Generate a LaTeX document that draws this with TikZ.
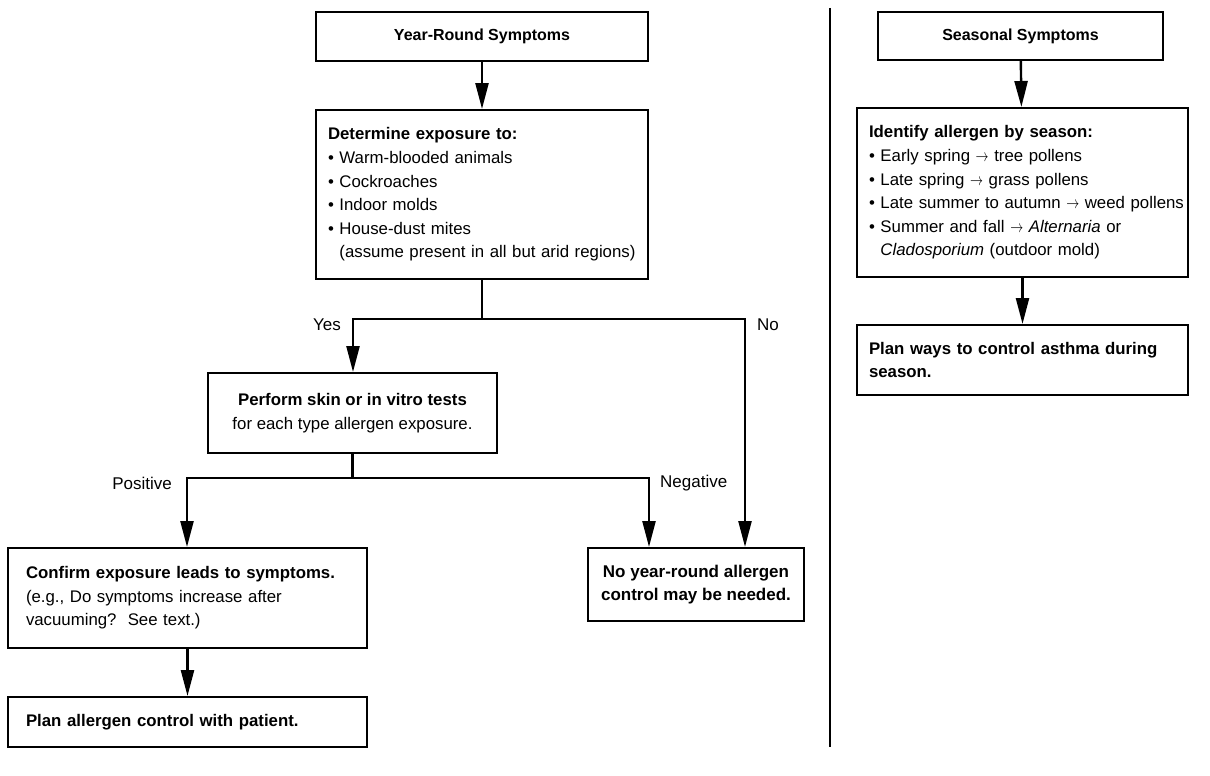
\documentclass[tikz,border=0pt]{standalone}
\usepackage{fontspec}
\setmainfont{Liberation Sans}
\usetikzlibrary{arrows.meta}
\newcommand{\sarr}{\scalebox{0.75}[1]{$\rightarrow$}}

\begin{document}
\begin{tikzpicture}[x=1pt, y=-1pt,
    box/.style={draw, line width=2pt, inner ysep=0pt, font=\fontsize{16.8}{23.6}\selectfont},
    titlebox/.style={box, align=center, font=\fontsize{16}{20}\selectfont\bfseries},
    listbox/.style={box, align=left, inner xsep=12pt},
    wire/.style={line width=2.4pt},
    flow/.style={wire, -{Triangle[length=26pt, width=13pt]}},
    lbl/.style={inner sep=0pt, font=\fontsize{17}{20}\selectfont}]
  \useasboundingbox (0,0) rectangle (1210,776);
  % year-round side
  \node[titlebox, minimum width=332pt, minimum height=49pt] (yr) at (482,36.5) {Year-Round Symptoms};
  \node[listbox, text width=308pt, minimum height=169pt] (det) at (482,194.5)
    {\textbf{Determine exposure to:}\\
     \textbullet\ Warm-blooded animals\\
     \textbullet\ Cockroaches\\
     \textbullet\ Indoor molds\\
     \textbullet\ House-dust mites\\
     \mbox{\hphantom{\textbullet\ }(assume present in all but arid regions)}};
  \node[box, align=center, minimum width=289pt, minimum height=80pt] (perf) at (352.5,413)
    {\textbf{Perform skin or in vitro tests}\\for each type allergen exposure.};
  \node[listbox, inner xsep=18pt, text width=323pt, minimum height=100pt] (conf) at (187.5,598)
    {\textbf{Confirm exposure leads to symptoms.}\\
     (e.g., Do symptoms increase after\\
     vacuuming?\ \ See text.)};
  \node[listbox, inner xsep=18pt, text width=323pt, minimum height=50pt] (plan) at (187.5,722)
    {\textbf{Plan allergen control with patient.}};
  \node[box, align=center, font=\fontsize{17}{23.6}\selectfont\bfseries, minimum width=216pt, minimum height=73pt] (none) at (696,584.5)
    {No year-round allergen\\control may be needed.};

  \coordinate (yesturn) at (353,319);
  \coordinate (noturn) at (745,319);
  \coordinate (posturn) at (187,478);
  \coordinate (negturn) at (649,478);

  \draw[flow] (yr) -- (det);
  \draw[wire] (det.south) -- (det.south |- yesturn);
  \draw[flow] (det.south |- yesturn) -- (yesturn) -- (yesturn |- perf.north);
  \draw[flow] (det.south |- noturn) -- (noturn) -- (noturn |- none.north);
  \draw[wire] (perf.south) -- (perf.south |- posturn);
  \draw[flow] (perf.south |- posturn) -- (posturn) -- (posturn |- conf.north);
  \draw[flow] (perf.south |- negturn) -- (negturn) -- (negturn |- none.north);
  \draw[flow] (conf) -- (plan);

  \node[lbl, anchor=east] (yes) at (341,325) {Yes};
  \node[lbl, anchor=west] (no) at (757,325) {No};
  \node[lbl, anchor=east] (pos) at (172,483) {Positive};
  \node[lbl, anchor=west] (neg) at (660,483) {Negative};

  % divider
  \coordinate (divtop) at (830,8);
  \coordinate (divbot) at (830,747);
  \draw[line width=2pt] (divtop) -- (divbot);

  % seasonal side
  \node[titlebox, minimum width=285pt, minimum height=48pt] (seas) at (1020.5,36) {Seasonal Symptoms};
  \node[listbox, text width=307pt, minimum height=169pt] (ident) at (1022.5,192.5)
    {\textbf{Identify allergen by season:}\\
     \textbullet\ Early spring \sarr\ tree pollens\\
     \textbullet\ Late spring \sarr\ grass pollens\\
     \mbox{\textbullet\ Late summer to autumn \sarr\ weed pollens}\\
     \textbullet\ Summer and fall \sarr\ \textit{Alternaria} or\\
     \hphantom{\textbullet\ }\textit{Cladosporium} (outdoor mold)};
  \node[listbox, text width=307pt, minimum height=70pt] (ways) at (1022.5,360)
    {\textbf{Plan ways to control asthma during\\season.}};
  \draw[flow] (seas) -- (ident);
  \draw[flow] (ident) -- (ways);
\end{tikzpicture}
\end{document}
